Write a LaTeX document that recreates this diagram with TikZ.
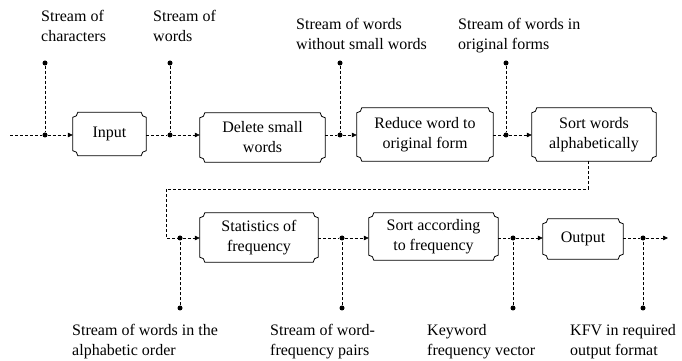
\documentclass[tikz,border=0pt]{standalone}
\usepackage{fontspec}
\setmainfont{Liberation Serif}
\usetikzlibrary{arrows.meta,calc}

% radius of the concave corner notches
\newcommand\notchr{5pt}

% outline of a process box: rectangle with concave (inward) corners
\newcommand\ticketbox[1]{%
  \draw[boxline]
    ($(#1.north west)+(0,-\notchr)$) arc[start angle=270,end angle=360,radius=\notchr]
    -- ($(#1.north east)+(-\notchr,0)$) arc[start angle=180,end angle=270,radius=\notchr]
    -- ($(#1.south east)+(0,\notchr)$) arc[start angle=90,end angle=180,radius=\notchr]
    -- ($(#1.south west)+(\notchr,0)$) arc[start angle=0,end angle=90,radius=\notchr]
    -- cycle;}

\tikzset{
  txt/.style={font=\fontsize{16}{20}\selectfont},
  stepbox/.style={txt, draw=none, align=center, inner sep=0pt},
  boxline/.style={line width=0.8pt},
  flow/.style={line width=0.6pt, dash pattern=on 3pt off 2pt},
  flowarrow/.style={flow, -{Triangle[length=5pt,width=4.5pt]}},
  tap/.style={circle, fill, inner sep=0pt, minimum size=5pt},
  streamtxt/.style={txt, anchor=north west, inner sep=0pt, align=left},
}

\begin{document}
\begin{tikzpicture}[x=1pt,y=1pt]
\useasboundingbox (0,0) rectangle (682,361);

% ---- process boxes, first row
\node[stepbox, minimum width=73pt, minimum height=43pt]  (input)  at (109.5,227)  {Input};
\node[stepbox, minimum width=125pt, minimum height=49pt] (delete) at (262.5,223.5) {Delete small\\words};
\node[stepbox, minimum width=136pt, minimum height=53pt] (reduce) at (425,226.5)  {Reduce word to\\original form};
\node[stepbox, minimum width=124pt, minimum height=53pt] (sortw)  at (594,226.5)  {Sort words\\alphabetically};

% ---- process boxes, second row
\node[stepbox, minimum width=118pt, minimum height=49pt] (stat)   at (259,123.5)  {Statistics of\\frequency};
\node[stepbox, minimum width=129pt, minimum height=47pt] (sortf)  at (433.5,124.5) {Sort according\\to frequency};
\node[stepbox, minimum width=80pt, minimum height=40pt]  (output) at (583,122)    {Output};

\foreach \b in {input,delete,reduce,sortw,stat,sortf,output} {\ticketbox{\b}}

% ---- taps on the data flow
\node[tap] (d1) at (45,226) {};
\node[tap] (d2) at (170,226) {};
\node[tap] (d3) at (340,226) {};
\node[tap] (d4) at (506,226) {};
\node[tap] (d5) at (180,123) {};
\node[tap] (d6) at (342,123) {};
\node[tap] (d7) at (513,123) {};
\node[tap] (d8) at (643,123) {};

\node[tap] (u1) at (45,298) {};
\node[tap] (u2) at (170,298) {};
\node[tap] (u3) at (340,298) {};
\node[tap] (u4) at (506,298) {};
\node[tap] (l5) at (180,53) {};
\node[tap] (l6) at (342,53) {};
\node[tap] (l7) at (513,53) {};
\node[tap] (l8) at (643,53) {};

\coordinate (in0)  at (10,226);
\coordinate (out0) at (668,123);
\coordinate (fb1)  at (588,172);
\coordinate (fb2)  at (166,172);

% ---- data flow
\draw[flowarrow] (in0) -- (d1) -- (d1 -| input.west);
\draw[flowarrow] (input.east |- d2) -- (d2) -- (d2 -| delete.west);
\draw[flowarrow] (delete.east |- d3) -- (d3) -- (d3 -| reduce.west);
\draw[flowarrow] (reduce.east |- d4) -- (d4) -- (d4 -| sortw.west);
\draw[flowarrow] (sortw.south -| fb1) -- (fb1) -- (fb2) |- (d5) -- (d5 -| stat.west);
\draw[flowarrow] (stat.east |- d6) -- (d6) -- (d6 -| sortf.west);
\draw[flowarrow] (sortf.east |- d7) -- (d7) -- (d7 -| output.west);
\draw[flowarrow] (output.east |- d8) -- (d8) -- (out0);

% ---- taps to their descriptions
\foreach \a/\b in {u1/d1,u2/d2,u3/d3,u4/d4,l5/d5,l6/d6,l7/d7,l8/d8}
  \draw[flow] (\a) -- (\b);

% ---- descriptions of the data
\node[streamtxt] (s1) at (41,351)  {Stream of\\characters};
\node[streamtxt] (s2) at (153,351) {Stream of\\words};
\node[streamtxt] (s3) at (296,343) {Stream of words\\without small words};
\node[streamtxt] (s4) at (458,343) {Stream of words in\\original forms};
\node[streamtxt] (s5) at (72,37)   {Stream of words in the\\alphabetic order};
\node[streamtxt] (s6) at (270,37)  {Stream of word-\\frequency pairs};
\node[streamtxt] (s7) at (427,37)  {Keyword\\frequency vector};
\node[streamtxt] (s8) at (570,37)  {KFV in required\\output format};
\end{tikzpicture}
\end{document}
